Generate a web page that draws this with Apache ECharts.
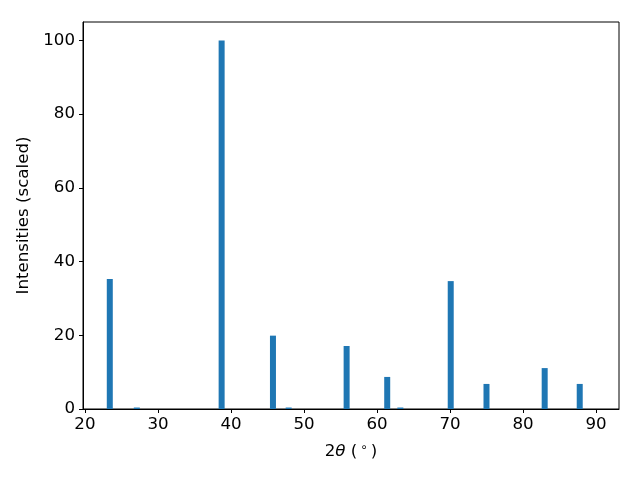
<!DOCTYPE html>
<html>
<head>
<meta charset="utf-8">
<script src="https://cdn.jsdelivr.net/npm/echarts@6/dist/echarts.min.js"></script>
<style>html,body{margin:0;padding:0;background:#fff}#c{width:640px;height:480px}</style>
</head>
<body>
<div id="c"></div>
<script>
// Peak positions (2θ, degrees) and scaled intensities
var twoTheta = [23.4, 27.1, 38.72, 45.75, 47.9, 55.84, 61.4, 63.2, 70.1, 75.0, 82.97, 87.77];
var intensity = [35.3, 0.4, 100, 19.9, 0.4, 17.1, 8.7, 0.4, 34.7, 6.8, 11.1, 6.8];
var xTicks = [20, 30, 40, 50, 60, 70, 80, 90];
var yTicks = [0, 20, 40, 60, 80, 100];

var data = twoTheta.map(function (x, i) { return [x, intensity[i]]; });
var font = 'DejaVu Sans';
var fs = 16.67;
var chart = echarts.init(document.getElementById('c'), null, {renderer: 'canvas'});
chart.setOption({
  animation: false,
  backgroundColor: '#fff',
  grid: {left: 83, right: 21, top: 22, bottom: 71, show: true, borderColor: '#000', borderWidth: 1, containLabel: false},
  xAxis: {
    type: 'value', min: 19.73, max: 93.15,
    splitLine: {show: false},
    axisLine: {show: true, onZero: false, lineStyle: {color: '#000', width: 1}},
    axisTick: {show: true, length: 4, inside: false, customValues: xTicks, lineStyle: {color: '#000'}},
    axisLabel: {customValues: xTicks, color: '#000', fontFamily: font, fontSize: fs, margin: 7},
    name: '{n|2}{i|θ}{n| (}{s|∘}{n|)}',
    nameLocation: 'middle', nameGap: 33,
    nameTextStyle: {
      color: '#000', fontFamily: font, fontSize: fs,
      rich: {
        n: {fontFamily: font, fontSize: fs, color: '#000'},
        i: {fontFamily: font, fontSize: fs, fontStyle: 'italic', color: '#000'},
        s: {fontFamily: font, fontSize: 12, color: '#000', padding: [0, 3, 8, 3]}
      }
    }
  },
  yAxis: {
    type: 'value', min: 0, max: 105,
    splitLine: {show: false},
    axisLine: {show: true, lineStyle: {color: '#000', width: 1}},
    axisTick: {show: true, length: 4, inside: false, customValues: yTicks, lineStyle: {color: '#000'}},
    axisLabel: {customValues: yTicks, color: '#000', fontFamily: font, fontSize: fs, margin: 8},
    name: 'Intensities (scaled)',
    nameLocation: 'middle', nameGap: 48,
    nameTextStyle: {color: '#000', fontFamily: font, fontSize: fs}
  },
  series: [{
    type: 'bar',
    data: data,
    barWidth: 6,
    itemStyle: {color: '#1f77b4'}
  }]
});
</script>
</body>
</html>
